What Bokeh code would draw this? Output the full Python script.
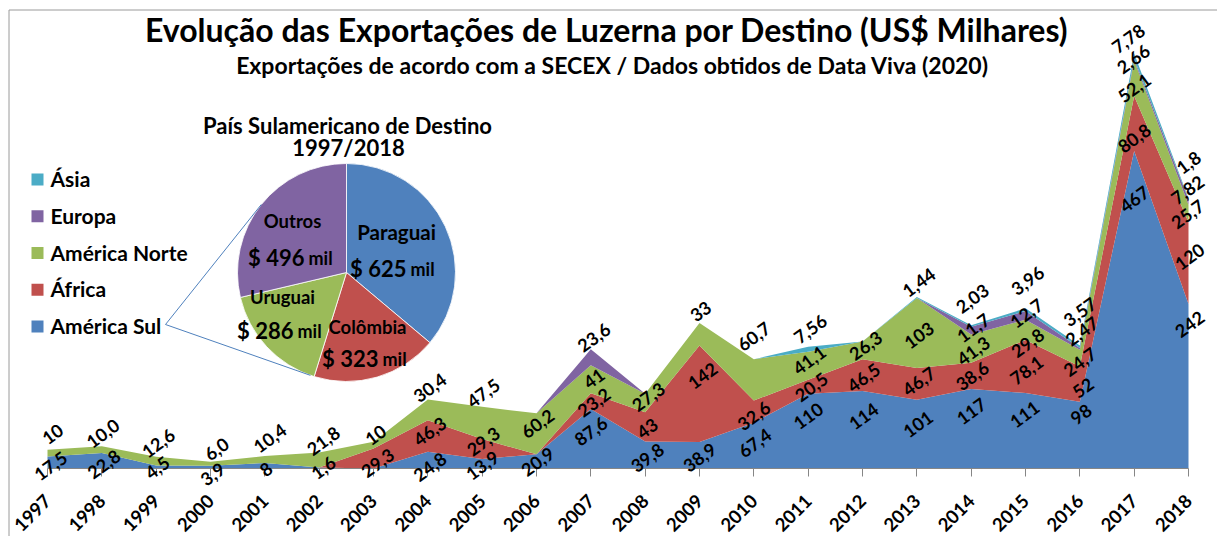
import math
import numpy as np
from bokeh.plotting import figure
from bokeh.models import Range1d, FixedTicker, ColumnDataSource, LabelSet
from bokeh.embed import file_html
from bokeh.resources import INLINE
from bokeh.core.properties import value

# ---------------- data ----------------
years = [1997, 1998, 1999, 2000, 2001, 2002, 2003, 2004, 2005, 2006, 2007,
         2008, 2009, 2010, 2011, 2012, 2013, 2014, 2015, 2016, 2017, 2018]

america_sul = ["17,5", "22,8", "4,5", "3,9", "8", "1,6", "0", "24,8", "13,9", "20,9", "87,6",
               "39,8", "38,9", "67,4", "110", "114", "101", "117", "111", "98", "467", "242"]
africa = ["0", "0", "0", "0", "0", "0", "29,3", "46,3", "29,3", "0", "23,2",
          "43", "142", "32,6", "20,5", "46,5", "46,7", "38,6", "78,1", "52", "80,8", "120"]
america_norte = ["10", "10,0", "12,6", "6,0", "10,4", "21,8", "10", "30,4", "47,5", "60,2", "41",
                 "27,3", "33", "60,7", "41,1", "26,3", "103", "41,3", "29,8", "24,7", "52,1", "25,7"]
europa = ["0", "0", "0", "0", "0", "0", "0", "0", "0", "0", "23,6",
          "0", "0", "0", "0", "0", "0", "11,7", "12,7", "2,47", "2,66", "7,82"]
asia = ["0", "0", "0", "0", "0", "0", "0", "0", "0", "0", "0",
        "0", "0", "0", "7,56", "0", "1,44", "2,03", "3,96", "3,57", "7,78", "1,8"]

series_names = ["América Sul", "África", "América Norte", "Europa", "Ásia"]
series_text = [america_sul, africa, america_norte, europa, asia]

pie_title = ["País Sulamericano de Destino", "1997/2018"]
pie_countries = ["Paraguai", "Colômbia", "Uruguai", "Outros"]
pie_values = [625, 323, 286, 496]

title = "Evolução das Exportações de Luzerna  por Destino (US$ Milhares)"
subtitle = "Exportações de acordo com a SECEX / Dados obtidos de Data Viva (2020)"

# ---------------- styles / layout ----------------
colors = ["#4F81BD", "#C0504D", "#9BBB59", "#8064A2", "#4BACC6"]
pie_colors = ["#4F81BD", "#C0504D", "#9BBB59", "#8064A2"]
FONT = value("Lato")

# data-label nudges in screen pixels (dx right, dy down), relative to the top of each band
label_dx = {
    "América Sul":   [3, 2, 1, 2, 1, 4, 0, 2, 0, 1, 0, 2, 0, 1, 0, 1, 1, 0, -1, 1, 0, 1],
    "África":        [0, 0, 0, 0, 0, 0, 4, 2, 1, 0, 3, 2, 3, 0, 3, 1, 2, 1, 1, 3, 0, 1],
    "América Norte": [5, 1, 2, 6, 5, 4, 2, 2, 1, 1, 3, 3, 1, 0, 1, 3, 2, 2, 2, 0, 0, -1],
    "Europa":        [0, 0, 0, 0, 0, 0, 0, 0, 0, 0, 3, 0, 0, 0, 0, 0, 0, 2, 1, 2, -1, -1],
    "Ásia":          [0, 0, 0, 0, 0, 0, 0, 0, 0, 0, 0, 0, 0, 0, 2, 0, 2, 1, 2, 0, -6, 0],
}
label_dy = {
    "América Sul":   [9, 11, 2, 8, 6, 0, 0, 15, 6, 7, 22, 16, 15, 20, 22, 25, 24, 22, 21, 12, 48, 20],
    "África":        [0, 0, 0, 0, 0, 0, 14, 11, 2, 0, 9, 16, 30, 15, 7, 18, 13, 13, 30, 21, 42, 34],
    "América Norte": [-16, -13, -14, -13, -18, -12, -7, -12, -14, 10, 13, 3, -12, -23, 8, 4, 37, 16, 23, 12, 27, 9],
    "Europa":        [0, 0, 0, 0, 0, 0, 0, 0, 0, 0, -12, 0, 0, 0, 0, 0, 0, 1, 2, -17, 0, -10],
    "Ásia":          [0, 0, 0, 0, 0, 0, 0, 0, 0, 0, 0, 0, 0, 0, -18, 0, -15, -27, -28, -34, -15, -36],
}

W, H = 1217, 536
BASE = 468                    # pixel row of the value axis zero
PPX = 1141 / 21               # px per year
PPY = 0.68                    # px per US$ thousand
X0 = 1997 - 47 / PPX
X1 = X0 + W / PPX
Y0 = -(H - BASE) / PPY
Y1 = BASE / PPY


def num(s):
    return float(s.replace(",", "."))


def Y(img_y):                 # image row -> pixel range coordinate (y up)
    return H - img_y


vals = np.array([[num(v) for v in s] for s in series_text])
cum = np.cumsum(vals, axis=0)

p = figure(width=W, height=H, x_range=Range1d(X0, X1), y_range=Range1d(Y0, Y1),
           output_backend="svg", toolbar_location=None, y_axis_location=None,
           min_border_left=0, min_border_right=0, min_border_top=0, min_border_bottom=0,
           outline_line_color=None, background_fill_color="white", border_fill_color="white")
p.xgrid.visible = False
p.ygrid.visible = False
p.extra_x_ranges = {"px": Range1d(0, W)}
p.extra_y_ranges = {"py": Range1d(0, H)}

# chart border
p.line(x=[8.5, 8.5, W], y=[0, Y(9.5), Y(9.5)], line_color="#9a9a9a", line_width=1,
       x_range_name="px", y_range_name="py")

# stacked areas
keys = ["s%d" % i for i in range(len(series_names))]
src = ColumnDataSource({"x": years, **{k: list(v) for k, v in zip(keys, vals)}})
p.varea_stack(stackers=keys, x="x", color=colors, source=src)

# x axis, drawn at value 0 inside the frame
ax = p.xaxis[0]
ax.fixed_location = 0
ax.ticker = FixedTicker(ticks=years)
ax.bounds = (years[0], years[-1])
ax.axis_line_color = "#868686"
ax.major_tick_line_color = "#868686"
ax.major_tick_out = 8
ax.major_tick_in = 0
ax.minor_tick_line_color = None
ax.major_label_orientation = math.pi / 4
ax.major_label_standoff = 21
ax.major_label_text_font = "Lato"
ax.major_label_text_font_style = "bold"
ax.major_label_text_font_size = "18.5px"
ax.major_label_text_color = "black"

# data labels
lx, ly, lt = [], [], []
for i, name in enumerate(series_names):
    for j, yr in enumerate(years):
        if vals[i, j] > 0:
            lx.append(yr + label_dx[name][j] / PPX)
            ly.append(cum[i, j] - label_dy[name][j] / PPY)
            lt.append(series_text[i][j])
lab_src = ColumnDataSource(dict(x=lx, y=ly, t=lt))
p.add_layout(LabelSet(x="x", y="y", text="t", source=lab_src, angle=0.63,
                      text_align="center", text_baseline="middle", text_font=FONT,
                      text_font_style="bold", text_font_size="18px", text_color="black"))

# titles (pixel coordinates)
kw = dict(x_range_name="px", y_range_name="py", text_font=FONT, text_font_style="bold",
          text_color="black", text_align="center", text_baseline="middle")
p.text(x=[610], y=[Y(29)], text=[title], text_font_size="32px", **kw)
p.text(x=[612], y=[Y(64)], text=[subtitle], text_font_size="23px", **kw)

# legend
leg_y = [Y(326 - 36.75 * i) for i in range(len(series_names))]
p.rect(x=[37] * 5, y=leg_y, width=12, height=12, width_units="screen", height_units="screen",
       fill_color=colors, line_color=None, x_range_name="px", y_range_name="py")
kwl = dict(kw)
kwl["text_align"] = "left"
p.text(x=[50] * 5, y=[v + 1 for v in leg_y], text=series_names, text_font_size="21px", **kwl)

# pie
cx, cy_img, r = 346, 272, 109
cy = Y(cy_img)
tot = sum(pie_values)
acc = np.concatenate([[0], np.cumsum(pie_values)])
starts = [math.pi / 2 - 2 * math.pi * a / tot for a in acc[:-1]]
ends = [math.pi / 2 - 2 * math.pi * a / tot for a in acc[1:]]
p.wedge(x=[cx] * 4, y=[cy] * 4, radius=r, radius_units="screen", start_angle=starts,
        end_angle=ends, direction="clock", fill_color=pie_colors, line_color="white",
        line_width=0.8, x_range_name="px", y_range_name="py")

# connector (tangent) lines from the "América Sul" legend entry to the pie
apx, apy = 165, Y(324)
ddx, ddy = cx - apx, cy - apy
d = math.hypot(ddx, ddy)
base = math.atan2(ddy, ddx)
half = math.asin(r / d)
tl = math.sqrt(d * d - r * r)
for sgn in (1, -1):
    a = base + sgn * half
    p.line(x=[apx, apx + tl * math.cos(a)], y=[apy, apy + tl * math.sin(a)],
           line_color="#4F81BD", line_width=1, x_range_name="px", y_range_name="py")

p.text(x=[347, 348], y=[Y(125), Y(147)], text=pie_title, text_font_size="22px", **kw)

# slice labels: (dx, dy) of the name centre and of the value baseline, from the pie centre
name_off = [(50, -39), (21, 56), (-64, 26), (-54, -50)]
name_size = ["20.5px", "18.5px", "18.5px", "18.5px"]
val_off = [(49, -4), (21, 86), (-64, 58), (-53, -15)]
for k in range(4):
    p.text(x=[cx + name_off[k][0]], y=[Y(cy_img + name_off[k][1] - 2)], text=[pie_countries[k]],
           text_font_size=name_size[k], **kw)
    vx, vy = cx + val_off[k][0], Y(cy_img + val_off[k][1])
    kr = dict(kw)
    kr["text_align"] = "right"
    kr["text_baseline"] = "alphabetic"
    p.text(x=[vx + 11], y=[vy], text=["$ %d" % pie_values[k]], text_font_size="22px", **kr)
    kr["text_align"] = "left"
    p.text(x=[vx + 15], y=[vy], text=["mil"], text_font_size="18px", **kr)

open("out.html", "w").write(file_html(p, INLINE))
